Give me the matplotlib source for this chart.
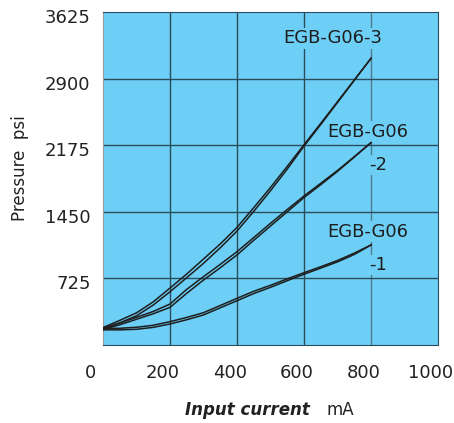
import numpy as np
import matplotlib.pyplot as plt
from matplotlib.transforms import ScaledTranslation

# current in mA, pressure in psi (two traces per valve: rising and falling)
current = [0, 50, 100, 150, 200, 250, 300, 350, 400, 450, 500, 550, 600, 650, 700, 750, 800]
g06_3_up = [190, 268, 350, 470, 620, 773, 936, 1100, 1280, 1495, 1715, 1945, 2180, 2413, 2649, 2885, 3121]
g06_3_dn = [172, 240, 318, 435, 580, 733, 889, 1058, 1240, 1455, 1680, 1915, 2165, 2400, 2640, 2880, 3121]
g06_2_up = [185, 240, 301, 365, 446, 606, 744, 878, 1016, 1170, 1325, 1475, 1622, 1760, 1900, 2050, 2203]
g06_2_dn = [170, 220, 280, 340, 410, 563, 707, 841, 980, 1140, 1295, 1450, 1605, 1745, 1890, 2045, 2203]
g06_1_up = [180, 182, 193, 215, 254, 300, 352, 430, 508, 585, 650, 720, 787, 852, 920, 1000, 1089]
g06_1_dn = [165, 165, 171, 192, 229, 275, 327, 405, 482, 560, 628, 700, 770, 837, 905, 985, 1089]

xticks = [0, 200, 400, 600, 800, 1000]
yticks = [725, 1450, 2175, 2900, 3625]

bg = '#6dcff6'
ink = '#1e1e1e'

fig = plt.figure(figsize=(4.54, 4.23), dpi=100)
ax = fig.add_axes([103 / 454, 78 / 423, 335 / 454, 333 / 423])
ax.set_facecolor(bg)
ax.set_xlim(0, 1000)
ax.set_ylim(0, 3625)

for x in [200, 400, 600]:
    ax.axvline(x, color='#2b4c5c', lw=1, zorder=1)
ax.axvline(800, color='#4f7a8c', lw=1, zorder=1)
for y in yticks[:-1]:
    ax.axhline(y, color='#2b4c5c', lw=1, zorder=1)

for up, dn in [(g06_3_up, g06_3_dn), (g06_2_up, g06_2_dn), (g06_1_up, g06_1_dn)]:
    ax.plot(current, up, color=ink, lw=1.1, zorder=3)
    ax.plot(current, dn, color=ink, lw=1.1, zorder=3)

box = dict(facecolor=bg, edgecolor='none', pad=1)
ax.text(537, 3339, 'EGB-G06-3', fontsize=13, color=ink, va='center', ha='left', bbox=box, zorder=2)
ax.text(670, 2322, 'EGB-G06', fontsize=13, color=ink, va='center', ha='left', bbox=box, zorder=2)
ax.text(795, 1959, '-2', fontsize=13, color=ink, va='center', ha='left', bbox=box, zorder=2)
ax.text(670, 1233, 'EGB-G06', fontsize=13, color=ink, va='center', ha='left', bbox=box, zorder=2)
ax.text(795, 871, '-1', fontsize=13, color=ink, va='center', ha='left', bbox=box, zorder=2)

for s in ['top', 'right', 'bottom']:
    ax.spines[s].set_color('#2b4c5c')
ax.spines['left'].set_color('#9a9a9a')

ax.set_xticks(xticks)
ax.set_xticklabels([str(v) for v in xticks], fontsize=13, color='#222222')
ax.set_yticks(yticks)
ax.set_yticklabels([str(v) for v in yticks], fontsize=13, color='#222222')
ax.tick_params(length=0)
ax.tick_params(axis='x', pad=14)
ax.tick_params(axis='y', pad=9)

for i, lab in enumerate(ax.get_xticklabels()):
    dx = -13 if i == 0 else -7
    lab.set_transform(lab.get_transform() + ScaledTranslation(dx / 100, 0, fig.dpi_scale_trans))
for lab in ax.get_yticklabels():
    lab.set_transform(lab.get_transform() + ScaledTranslation(0, -4 / 100, fig.dpi_scale_trans))

fig.text(20 / 454, 1 - 168 / 423, 'Pressure  psi', rotation=90, fontsize=12, color='#222222',
         ha='center', va='center')
fig.text(310 / 454, 1 - 410 / 423, 'Input current', fontsize=12, fontweight='bold', style='italic',
         color='#222222', ha='right', va='center')
fig.text(327 / 454, 1 - 410 / 423, 'mA', fontsize=12, color='#222222', ha='left', va='center')

fig.savefig('out.png', dpi=100)
